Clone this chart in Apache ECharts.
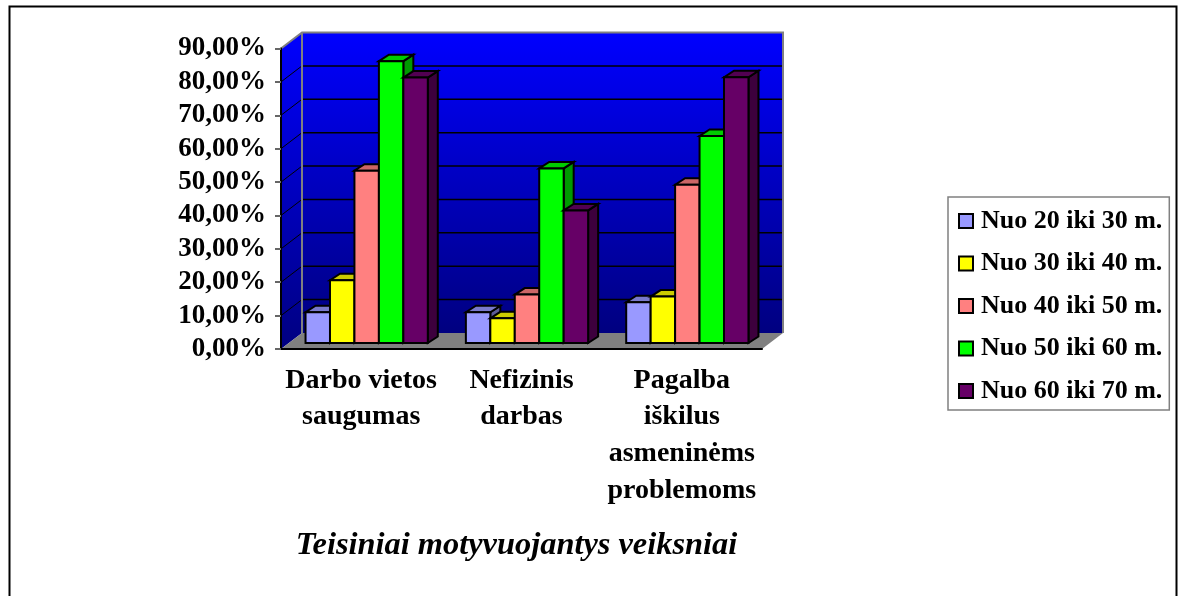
<!DOCTYPE html>
<html><head><meta charset="utf-8">
<style>html,body{margin:0;padding:0;background:#fff}#c{width:1178px;height:596px}</style>
<script src="https://cdn.jsdelivr.net/npm/echarts@6/dist/echarts.min.js"></script>
</head><body><div id="c"></div>
<script>
const categories = ['Darbo vietos\nsaugumas', 'Nefizinis\ndarbas', 'Pagalba\niškilus\nasmeninėms\nproblemoms'];
const seriesNames = ['Nuo 20 iki 30 m.', 'Nuo 30 iki 40 m.', 'Nuo 40 iki 50 m.', 'Nuo 50 iki 60 m.', 'Nuo 60 iki 70 m.'];
const age20 = [9.2, 9.2, 12.2];
const age30 = [18.8, 7.4, 13.9];
const age40 = [51.6, 14.5, 47.4];
const age50 = [84.4, 52.3, 62];
const age60 = [79.5, 39.7, 79.6];
const seriesValues = [age20, age30, age40, age50, age60];
const yTicks = [0, 10, 20, 30, 40, 50, 60, 70, 80, 90];
const xAxisTitle = 'Teisiniai motyvuojantys veiksniai';

const frontColors = ['#9999ff', '#ffff00', '#ff8080', '#00ff00', '#660066'];
const topColors   = ['#7a7acc', '#cccc00', '#cc6666', '#00cc00', '#520052'];
const sideColors  = ['#5c5c99', '#999900', '#994d4d', '#009900', '#3d003d'];

const FONT = '"Liberation Serif","Times New Roman",serif';
const WALL = [21, -16];     // depth of the whole plot box
const INSET = [5.5, -6];    // front of the bars relative to the front of the box
const DEPTH = [10, -6.5];   // depth of each bar
const CLUSTER = 122 / 160;  // share of a category taken by the five bars

const wallGradient = () => new echarts.graphic.LinearGradient(0, 0, 0, 1, [
  {offset: 0, color: '#0000ff'}, {offset: 1, color: '#000080'}]);

function renderWalls(params, api) {
  const cs = params.coordSys;
  const l = cs.x, r = cs.x + cs.width, t = cs.y, b = cs.y + cs.height;
  const dx = WALL[0], dy = WALL[1];
  const els = [];
  els.push({type: 'polygon', shape: {points: [[l, t], [l + dx, t + dy], [l + dx, b + dy], [l, b]]},
    style: {fill: wallGradient(), stroke: null}});
  els.push({type: 'rect', shape: {x: l + dx, y: t + dy, width: r - l, height: b - t},
    style: {fill: wallGradient()}});
  els.push({type: 'polygon', shape: {points: [[l, b], [r, b], [r + dx, b + dy], [l + dx, b + dy]]},
    style: {fill: '#808080'}});
  yTicks.forEach(v => {
    const y = api.coord([0, v])[1];
    if (v > 0 && v < 90) {
      els.push({type: 'line', shape: {x1: l + dx, y1: y + dy, x2: r + dx, y2: y + dy}, style: {stroke: '#000', lineWidth: 1.5}});
      els.push({type: 'line', shape: {x1: l, y1: y, x2: l + dx, y2: y + dy}, style: {stroke: '#000', lineWidth: 1}});
    }
  });
  const grey = {stroke: '#808080', lineWidth: 2, fill: null};
  els.push({type: 'polyline', shape: {points: [[l, t], [l + dx, t + dy], [r + dx, t + dy], [r + dx, b + dy]]}, style: grey});
  els.push({type: 'line', shape: {x1: l + dx, y1: t + dy, x2: l + dx, y2: b + dy}, style: {stroke: '#808080', lineWidth: 2}});
  return {type: 'group', children: els};
}

function makeBarRenderer(idx) {
  return function (params, api) {
    const cat = api.value(0), v = api.value(1);
    const base = api.coord([cat, 0]);
    const top = api.coord([cat, v]);
    const catW = api.size([1, 0])[0];
    const w = catW * CLUSTER / seriesNames.length;
    const x0 = base[0] - catW * CLUSTER / 2 + INSET[0] + idx * w;
    const x1 = x0 + w;
    const yb = base[1] + INSET[1], yt = top[1] + INSET[1];
    const dx = DEPTH[0], dy = DEPTH[1];
    const line = {stroke: '#000', lineWidth: 2, lineJoin: 'miter'};
    return {type: 'group', children: [
      {type: 'polygon', shape: {points: [[x1, yt], [x1 + dx, yt + dy], [x1 + dx, yb + dy], [x1, yb]]},
        style: Object.assign({fill: sideColors[idx]}, line)},
      {type: 'polygon', shape: {points: [[x0, yt], [x0 + dx, yt + dy], [x1 + dx, yt + dy], [x1, yt]]},
        style: Object.assign({fill: topColors[idx]}, line)},
      {type: 'rect', shape: {x: x0, y: yt, width: w, height: yb - yt},
        style: Object.assign({fill: frontColors[idx]}, line)}
    ]};
  };
}

const chart = echarts.init(document.getElementById('c'), null, {renderer: 'canvas'});
chart.setOption({
  animation: false,
  backgroundColor: '#fff',
  graphic: [{type: 'rect', silent: true, z: 0,
    shape: {x: 9.5, y: 6.5, width: 1167, height: 640},
    style: {fill: null, stroke: '#000', lineWidth: 2}}],
  title: {text: xAxisTitle, left: 511.5, top: 525, textAlign: 'center',
    textStyle: {fontFamily: FONT, fontSize: 32.4, fontWeight: 'bold', fontStyle: 'italic', color: '#000'}},
  grid: {left: 281, top: 48.5, width: 481, height: 300.5},
  legend: {
    orient: 'vertical', left: 948, top: 197,
    data: seriesNames, icon: 'rect', itemWidth: 14, itemHeight: 14, itemGap: 16.5, itemStyle: {borderColor: '#000', borderWidth: 2},
    padding: [11, 7, 6, 10], backgroundColor: '#fff', borderColor: '#808080', borderWidth: 1.5,
    textStyle: {fontFamily: FONT, fontSize: 26, fontWeight: 'bold', color: '#000', lineHeight: 26, padding: [0, 0, 0, 3]},
    selectedMode: false
  },
  xAxis: {
    type: 'category', data: categories, z: 5,
    axisLine: {lineStyle: {color: '#000', width: 2}},
    axisTick: {length: 6, alignWithLabel: false, lineStyle: {color: '#808080', width: 2}},
    axisLabel: {interval: 0, margin: 13, fontFamily: FONT, fontSize: 28, fontWeight: 'bold', color: '#000', lineHeight: 36.7}
  },
  yAxis: {
    type: 'value', min: 0, max: 90, interval: 10, z: 5,
    splitLine: {show: false},
    axisLine: {show: true, lineStyle: {color: '#000', width: 2}},
    axisTick: {show: true, length: 6, lineStyle: {color: '#666', width: 2}},
    axisLabel: {margin: 15, fontFamily: FONT, fontSize: 27, fontWeight: 'bold', color: '#000',
      formatter: v => v.toFixed(2).replace('.', ',') + '%'}
  },
  series: [
    {type: 'custom', name: 'plot box', silent: true, z: 1, renderItem: renderWalls, data: [[0, 0]], encode: {x: 0, y: 1}}
  ].concat(seriesNames.map((name, i) => ({
    type: 'custom', name, z: 2 + i, renderItem: makeBarRenderer(i),
    itemStyle: {color: frontColors[i], borderColor: '#000', borderWidth: 2},
    encode: {x: 0, y: 1},
    data: seriesValues[i].map((v, c) => [c, v])
  })))
});
</script></body></html>
